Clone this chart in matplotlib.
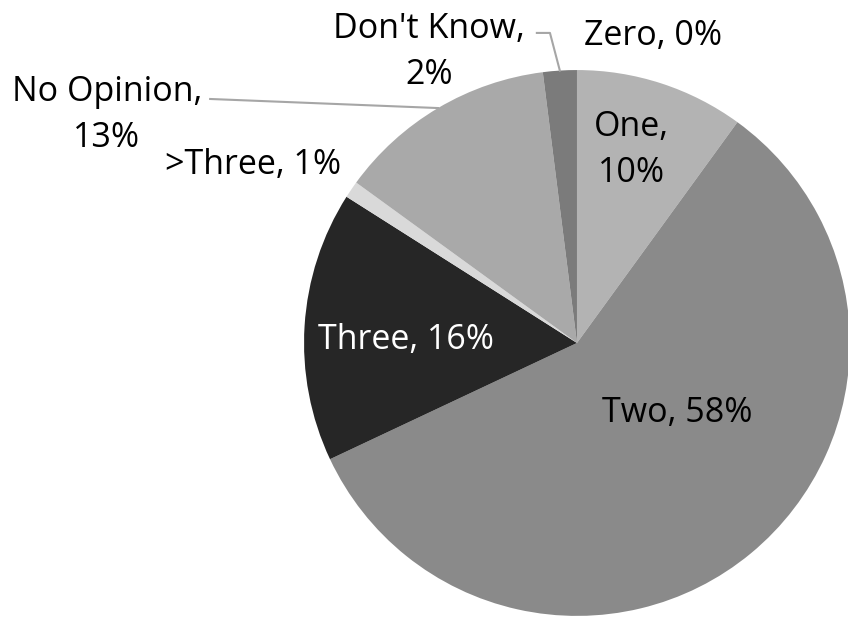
import numpy as np
import matplotlib
matplotlib.use("Agg")
import matplotlib.pyplot as plt

plt.rcParams['font.family'] = ['Open Sans', 'DejaVu Sans']

categories = ["Zero", "One", "Two", "Three", ">Three", "No Opinion", "Don't Know"]
percents = [0, 10, 58, 16, 1, 13, 2]
colors = ["#9a9a9a", "#b3b3b3", "#8a8a8a", "#262626", "#d9d9d9", "#a9a9a9", "#7b7b7b"]

fig = plt.figure(figsize=(8.48, 6.24), dpi=100)
ax = fig.add_axes([0, 0, 1, 1])

wedges, _ = ax.pie(percents, colors=colors, startangle=90, counterclock=False,
                   radius=1, center=(0, 0), wedgeprops=dict(linewidth=0))

ax.set_aspect('equal')
ax.set_xlim(-2.114, 0.993)
ax.set_ylim(-1.029, 1.256)
ax.axis('off')

def edge_point(w):
    mid = np.deg2rad((w.theta1 + w.theta2) / 2)
    return np.cos(mid), np.sin(mid)

fs = 24.5
ls = 1.45
# labels inside the pie
ax.text(0.201, 0.707, "One,\n10%", ha='center', va='center', fontsize=fs, linespacing=ls)
ax.text(0.366, -0.256, "Two, 58%", ha='center', va='center', fontsize=fs)
ax.text(-0.626, 0.011, "Three, 16%", ha='center', va='center', fontsize=fs, color='white')

# labels outside
ax.text(0.278, 1.125, "Zero, 0%", ha='center', va='center', fontsize=fs)
ax.text(-1.187, 0.652, ">Three, 1%", ha='center', va='center', fontsize=fs)
ax.text(-0.542, 1.066, "Don't Know,\n2%", ha='center', va='center', fontsize=fs, linespacing=ls)
ax.text(-1.722, 0.835, "No Opinion,\n13%", ha='center', va='center', fontsize=fs, linespacing=ls)

# leader lines
ex, ey = edge_point(wedges[6])
ax.plot([-0.147, -0.099, ex], [1.136, 1.136, ey], color="#a6a6a6", lw=1.5)
ex, ey = edge_point(wedges[5])
ax.plot([-1.344, ex], [0.894, ey], color="#a6a6a6", lw=1.5)

fig.savefig("out.png", dpi=100)
